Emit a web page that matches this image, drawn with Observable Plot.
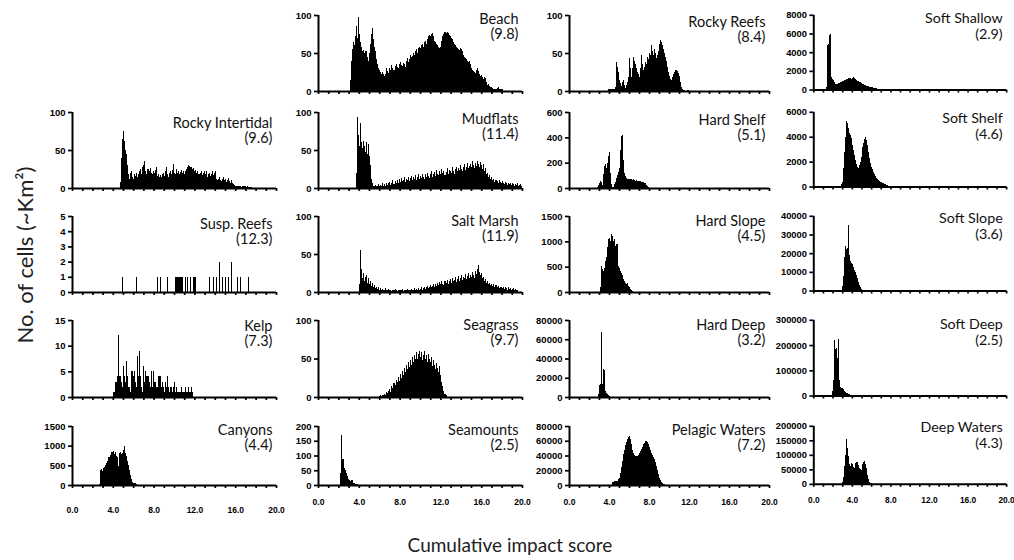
<!DOCTYPE html>
<html><head><meta charset="utf-8">
<script src="https://cdn.jsdelivr.net/npm/d3@7"></script>
<script src="https://cdn.jsdelivr.net/npm/@observablehq/plot@0.6"></script>
<style>
body{margin:0;background:#fff;}
#chart{position:relative;width:1014px;height:560px;overflow:hidden;background:#fff;}
.panel{position:absolute;}
.panel svg{overflow:visible;display:block;}
.panel g[aria-label^="x-axis"] path, .panel g[aria-label="x-axis"] line{stroke-width:1.7px;}
.panel g[aria-label^="y-axis"] path, .panel g[aria-label="y-axis"] line{stroke-width:1.7px;}
.panel g[aria-label^="y-axis"] text{font-size:9.5px;font-weight:bold;font-family:'Liberation Sans',Arial,sans-serif;}
.panel g[aria-label^="x-axis"] text{font-size:8.5px;font-weight:bold;font-family:'Liberation Sans',Arial,sans-serif;}
#overlay{position:absolute;left:0;top:0;pointer-events:none;}
</style></head><body><div id="chart"></div><script>
// ---------------- data ----------------
const BIN = 0.1;
const habitats = ["Beach","Rocky Reefs","Soft Shallow","Rocky Intertidal","Mudflats","Hard Shelf","Soft Shelf","Susp. Reefs","Salt Marsh","Hard Slope","Soft Slope","Kelp","Seagrass","Hard Deep","Soft Deep","Canyons","Seamounts","Pelagic Waters","Deep Waters"];
const meanImpact = [9.8,8.4,2.9,9.6,11.4,5.1,4.6,12.3,11.9,4.5,3.6,7.3,9.7,3.2,2.5,4.4,2.5,7.2,4.3];
const yMax  = [100,100,8000,100,100,600,6000,5,100,1500,40000,15,100,80000,300000,1500,200,80000,200000];
const yStep = [50,50,2000,50,50,200,2000,1,50,500,10000,5,50,20000,100000,500,50,20000,50000];
const firstBin = [3.1,3.9,1.2,4.7,3.7,2.8,2.8,null,4.0,3.1,2.9,4.0,6.0,2.9,1.9,2.6,2.2,4.3,3.0];
const xTicks = [0,1,2,3,4,5,6,7,8,9,10,11,12,13,14,15,16,17,18,19,20];
const xLabelValues = [0,4,8,12,16,20];
const xTickLabels = ["0.0","4.0","8.0","12.0","16.0","20.0"];

const beachCounts = [15,40,55,65,60,72,85,70,98,
 75,65,58,52,54,50,53,52,45,40, 50,62,75,83,68,58,52,42,35,30,
 28,25,22,25,22,20,22,30,26,24, 30,28,34,30,27,33,35,31,30,36,
 38,34,33,37,35,32,40,44,38,42, 48,45,46,50,48,52,55,50,56,58,
 56,60,62,58,64,66,62,68,72,74, 72,75,76,73,66,64,62,60,58,56,
 58,66,72,75,78,76,77,76,74,72, 70,68,64,62,60,58,56,55,54,57,
 55,52,48,45,44,42,40,38,40,35, 30,28,26,25,24,28,30,26,22,20,
 21,18,16,18,17,12,8,9,6,5, 5,4,3,3,2,4,5,3,2,3, 2];
const rockyReefsCounts = [2,2,3,2,3,2,3,5,38,32, 25,15,10,6,12,15,8,4,8,12,
 18,44,30,18,30,45,40,36,30,25, 22,18,30,48,35,28,32,38,35,45,
 42,50,48,60,52,48,55,50,44,48, 52,62,67,64,60,55,50,45,40,32,
 25,20,16,14,18,22,25,27,28,26, 24,20,12,5,2,1,1,0,0,1,1];
const softShallowCounts = [100,300,4800,4900,5800,5900,1300,1100,1000,800,
 700,650,600,650,700,750,800,850,900,950, 1000,1050,1100,1150,1200,1250,1200,1150,1250,1300,
 1200,1100,1050,950,900,850,800,700,650,600, 550,500,450,420,380,350,320,300,270,250,
 220,200,170,140,110,80,60,40,25,15,10];
const rockyIntertidalCounts = [8,40,65,
 75,62,50,45,30,18,12,20,22,14, 12,18,16,20,14,18,22,25,18,28,
 30,35,22,18,25,22,26,20,18,22, 20,24,28,16,18,15,17,14,18,20,
 16,22,28,18,15,20,22,18,24,32, 20,18,25,20,22,18,21,24,20,22,
 18,23,25,28,30,29,27,28,25,26, 22,24,20,22,18,20,23,17,20,22,
 18,22,15,18,20,16,19,22,17,20, 22,12,10,12,15,11,9,12,14,10,
 12,8,10,13,9,7,10,6,5,4, 2,3,2,2,3,2,1,2,3,2, 2,1,2,1,1,1];
const mudflatsCounts = [20,93,70,
 55,85,60,52,62,55,48,60,45,58, 42,30,12,6,3,2,4,2,3,5,
 2,4,3,6,2,5,3,7,4,6, 8,4,7,10,5,9,6,11,7,12,
 8,13,9,11,15,8,12,10,14,9, 13,16,10,14,12,17,11,15,18,12,
 16,13,19,15,12,18,14,20,16,13, 19,22,15,18,21,16,24,19,17,22,
 18,25,20,23,17,21,26,19,24,22, 20,27,23,19,25,28,22,26,24,30,
 25,22,28,31,24,27,33,26,29,32, 28,35,30,26,33,29,36,31,27,34,
 30,25,32,22,26,18,20,15,17,12, 14,10,12,8,11,9,7,10,8,6,
 9,7,5,8,6,4,7,5,6,4, 6,5,3,5,4,6,3,4,5,3];
const hardShelfCounts = [5,20,40,55,45,20,110,175,190,160, 200,250,285,120,30,5,10,30,50,80,
 100,130,160,300,410,420,220,120,95,80, 72,70,75,72,68,65,70,62,58,60,
 55,55,58,52,50,48,45,42,38,25, 12,5,2];
const softShelfCounts = [80,200,400,1500,2800,4000,5300,5100,4700,4300,
 4100,3900,3300,2900,2500,2100,1800,1550,1500,1700, 2000,2400,2800,3200,3500,3800,3950,3700,3300,2800,
 2300,1900,1600,1400,1200,1000,850,720,600,500, 420,380,350,320,280,240,200,160,120,90,
 70,50,40,35,30,25,25,20,20,15,15,10,10];
const suspReefsX = [4.9,6.3,8.3,8.6,9.3,10.1,10.2,10.3,10.4,10.5,10.6,10.7,10.8,11.1,11.3,11.6,11.9,12.0,12.1,13.4,13.8,14.1,14.4,14.7,15.0,15.3,15.6,16.2,16.5,17.3];
const suspReefsCounts = [1,1,1,1,1,1,1,1,1,1,1,1,1,1,1,1,1,1,1,1,1,1,2,1,1,1,2,1,1,1];
const saltMarshCounts = [10,55,30,18,25,14,20,22,12,18,
 10,15,8,12,6,9,5,7,4,6, 3,5,2,4,3,2,5,3,2,4,
 2,3,1,3,2,4,2,1,3,2, 3,2,4,1,3,2,3,4,2,3,
 2,4,3,2,5,3,4,2,5,3, 4,6,3,5,7,4,6,8,5,7,
 9,6,8,10,7,11,8,12,9,13, 10,14,11,9,15,12,16,10,14,17,
 12,18,14,16,20,13,17,21,15,19, 22,16,20,18,24,17,21,25,19,23,
 20,26,22,18,28,24,30,35,26,22, 25,18,20,15,17,12,14,10,12,9,
 11,8,10,7,9,6,8,5,7,6, 5,7,4,6,5,3,6,4,5,3, 4,5,3,4,2,3];
const hardSlopeCounts = [100,520,460,420,480,620,700,880,1050,1060,
 1000,1150,1100,1000,1050,900,950,940,520,470, 420,380,340,260,220,180,150,180,120,90,
 60,40,20,8];
const softSlopeCounts = [500,2500,8000,18000,24000,22000,23000,35000,19000,16000,
 15000,14000,12500,11000,10000,8500,6500,4500,3000,1800, 1000,500,200];
const kelpCounts = [1,1,3,3,4,12,4,4,3,2, 6,4,3,7,4,2,2,1,5,5,
 4,5,3,2,8,4,9,4,2,1, 6,3,5,4,4,3,2,5,2,5,
 3,3,2,2,4,4,4,2,3,2, 1,3,2,4,2,1,2,2,1,2,
 3,1,2,1,1,1,1,2,1,1, 1,2,1,1,2,1,1,2,1];
const seagrassCounts = [1,2,1,3,2,4,3,6,5,8,
 10,7,14,12,18,15,22,19,26,21, 30,25,34,28,38,32,42,36,45,39,
 48,42,52,46,55,49,58,50,56,60, 52,58,48,55,60,50,54,46,56,50,
 45,52,40,48,42,36,44,38,32,40, 28,20,14,8,4,2];
const hardDeepCounts = [3000,12000,13000,68000,14000,29000,28000,6000,4000,3500,2000,1000,500];
const softDeepCounts = [20000,60000,220000,190000,185000,190000,150000,225000,60000,32000,
 30000,28000,25000,20000,16000,12000,9000,7000,5000,4000, 3000,2500,2000,1800,1500,1200,1000,800,600,500,400,300];
const canyonsCounts = [30,380,400,350,420,460,500,560,620,700,
 720,760,840,850,860,800,830,750,700,480, 820,850,780,820,880,1000,820,750,600,500,
 380,250,150,80,50,60,40,20,10,5];
const seamountsCounts = [40,170,88,58,52,40,32,22,18,15,18,16,8,6,5,3,2,1];
const pelagicCounts = [4000,4500,5000,5000,5500,6000,8000,10000,16000,24000,
 32000,42000,48000,54000,58000,62000,65000,66000,62000,55000, 48000,44000,41000,40000,39000,39500,41000,43000,46000,49000,
 52000,55000,57000,59000,59500,58000,56000,52000,48000,44000, 41000,38000,35000,31000,26000,20000,15000,10000,7000,4000,
 2500,1500,1000,600,400,300,200,100];
const deepWatersCounts = [5000,25000,60000,100000,155000,125000,95000,70000,62000,72000,
 68000,58000,55000,72000,77000,75000,65000,55000,52000,48000, 58000,68000,75000,78000,70000,55000,30000,15000,8000,3000,1500,800];

const countsBy = [beachCounts,rockyReefsCounts,softShallowCounts,rockyIntertidalCounts,mudflatsCounts,hardShelfCounts,softShelfCounts,null,saltMarshCounts,hardSlopeCounts,softSlopeCounts,kelpCounts,seagrassCounts,hardDeepCounts,softDeepCounts,canyonsCounts,seamountsCounts,pelagicCounts,deepWatersCounts];

// ---------------- layout ----------------
const gridRow = [0,0,0,1,1,1,1,2,2,2,2,3,3,3,3,4,4,4,4];
const gridCol = [1,2,3,0,1,2,3,0,1,2,3,0,1,2,3,0,1,2,3];
const colLeft = [72,318,569,814], colWidth = [204,204,200,196];
const rowTop = [15,112,216,320,426], rowHeight = [76,76,76,77,59];
const labelPad = [18,10,10,10];
const titleDy = [-3,0,-3,4,0,1,0,1,-2,-2,-4,-1,-2,-2,-2,-3,-3,-3,-5];
const ML = 44, MR = 8, MT = 12, MB = 34;

const chart = document.getElementById("chart");
habitats.forEach((name, i) => {
  const r = gridRow[i], c = gridCol[i];
  const bottom = r === 4;
  let rows;
  if (name === "Susp. Reefs") {
    rows = suspReefsX.map((x, j) => ({x1: x, x2: +(x + BIN).toFixed(2), count: suspReefsCounts[j]}));
  } else {
    rows = countsBy[i].map((v, j) => ({x1: +(firstBin[i] + j * BIN).toFixed(2), x2: +(firstBin[i] + (j + 1) * BIN).toFixed(2), count: v}));
  }
  const yTicks = d3.range(0, yMax[i] + yStep[i] / 2, yStep[i]);
  const svg = Plot.plot({
    width: ML + colWidth[c] + MR,
    height: MT + rowHeight[r] + MB,
    marginLeft: ML, marginRight: MR, marginTop: MT, marginBottom: MB,
    style: {fontFamily: "'Liberation Sans', Arial, sans-serif", fontWeight: "bold", fontSize: "9px", color: "#000", background: "transparent", overflow: "visible"},
    x: {domain: [0, 20], ticks: xTicks, tickSize: 3, tickPadding: bottom ? labelPad[c] : 0, label: null,
        tickFormat: d => { const k = xLabelValues.indexOf(d); return bottom && k >= 0 ? xTickLabels[k] : ""; }},
    y: {domain: [0, yMax[i]], ticks: yTicks, tickSize: 4, tickPadding: 3, label: null, tickFormat: d => String(d)},
    marks: [
      Plot.rectY(rows, {x1: "x1", x2: "x2", y: "count", fill: "#000", inset: 0, shapeRendering: "crispEdges"}),
      Plot.ruleY([0], {stroke: "#000", strokeWidth: 2}),
      Plot.ruleX([0], {stroke: "#000", strokeWidth: 2}),
      Plot.text([`${name}\n(${meanImpact[i].toFixed(1)})`], {frameAnchor: "top-right", textAnchor: "end", lineAnchor: "top",
        dx: -4, dy: titleDy[i], fontSize: 14.5, fontFamily: "Lato, sans-serif", fontWeight: "normal", lineHeight: 1.08, fill: "#111"})
    ]
  });
  const div = document.createElement("div");
  div.className = "panel";
  div.style.left = (colLeft[c] - ML) + "px";
  div.style.top = (rowTop[r] - MT) + "px";
  div.appendChild(svg);
  chart.appendChild(div);
});

// axis titles
const ov = d3.select(chart).append("svg").attr("id", "overlay").attr("width", 1014).attr("height", 560)
  .style("font-family", "Lato, sans-serif").style("fill", "#222");
ov.append("text").attr("x", 510).attr("y", 552).attr("text-anchor", "middle").attr("font-size", 19)
  .text("Cumulative impact score");
ov.append("text").attr("transform", "translate(33,255) rotate(-90)").attr("text-anchor", "middle").attr("font-size", 22)
  .text("No. of cells (~Km²)");
</script></body></html>
